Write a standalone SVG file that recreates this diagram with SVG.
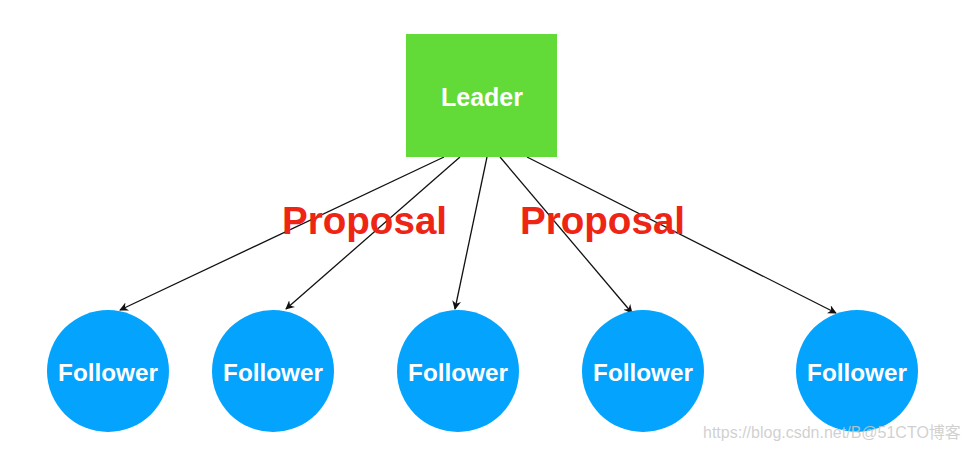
<svg xmlns="http://www.w3.org/2000/svg" width="966" height="449" viewBox="0 0 966 449">
<style>
.lbl{font-family:"Liberation Sans",Arial,sans-serif;font-weight:bold;fill:#fff;text-anchor:middle}
.fol{fill:#03A3FE}
.prop{font-family:"Liberation Sans",Arial,sans-serif;font-weight:bold;fill:#EE2414;font-size:38.6px}
.edge{stroke:#111;stroke-width:1.3;fill:none;marker-end:url(#arr)}
</style>
<defs>
<marker id="arr" viewBox="0 0 10 10" refX="9" refY="5" markerWidth="9" markerHeight="9" markerUnits="userSpaceOnUse" orient="auto">
<path d="M0,0 L10,5 L0,10 L3,5 z" fill="#111"/>
</marker>
</defs>
<rect width="966" height="449" fill="#fff"/>
<g id="connectors">
<line class="edge" x1="444" y1="157" x2="120" y2="310"/>
<line class="edge" x1="460" y1="157" x2="286" y2="309"/>
<line class="edge" x1="487" y1="157" x2="455" y2="309"/>
<line class="edge" x1="500" y1="157" x2="632" y2="313"/>
<line class="edge" x1="527" y1="157" x2="836" y2="313"/>
</g>
<g id="leader">
<rect x="406" y="34" width="151" height="123" fill="#62DA37"/>
<text class="lbl" x="482" y="106" font-size="25">Leader</text>
</g>
<g id="follower1">
<circle class="fol" cx="108" cy="371" r="61"/>
<text class="lbl" x="108" y="381" font-size="24.3">Follower</text>
</g>
<g id="follower2">
<circle class="fol" cx="273" cy="371" r="61"/>
<text class="lbl" x="273" y="381" font-size="24.3">Follower</text>
</g>
<g id="follower3">
<circle class="fol" cx="458" cy="371" r="61"/>
<text class="lbl" x="458" y="381" font-size="24.3">Follower</text>
</g>
<g id="follower4">
<circle class="fol" cx="643" cy="371" r="61"/>
<text class="lbl" x="643" y="381" font-size="24.3">Follower</text>
</g>
<g id="follower5">
<circle class="fol" cx="857" cy="371" r="61"/>
<text class="lbl" x="857" y="381" font-size="24.3">Follower</text>
</g>
<text class="prop" x="282" y="234">Proposal</text>
<text class="prop" x="520" y="234">Proposal</text>
<text x="703" y="438" font-family="Liberation Sans,Arial,'Noto Sans CJK SC',sans-serif" font-size="16" fill="#c8c8c8" fill-opacity="0.85">https://blog.csdn.net/B@51CTO博客</text>
</svg>
